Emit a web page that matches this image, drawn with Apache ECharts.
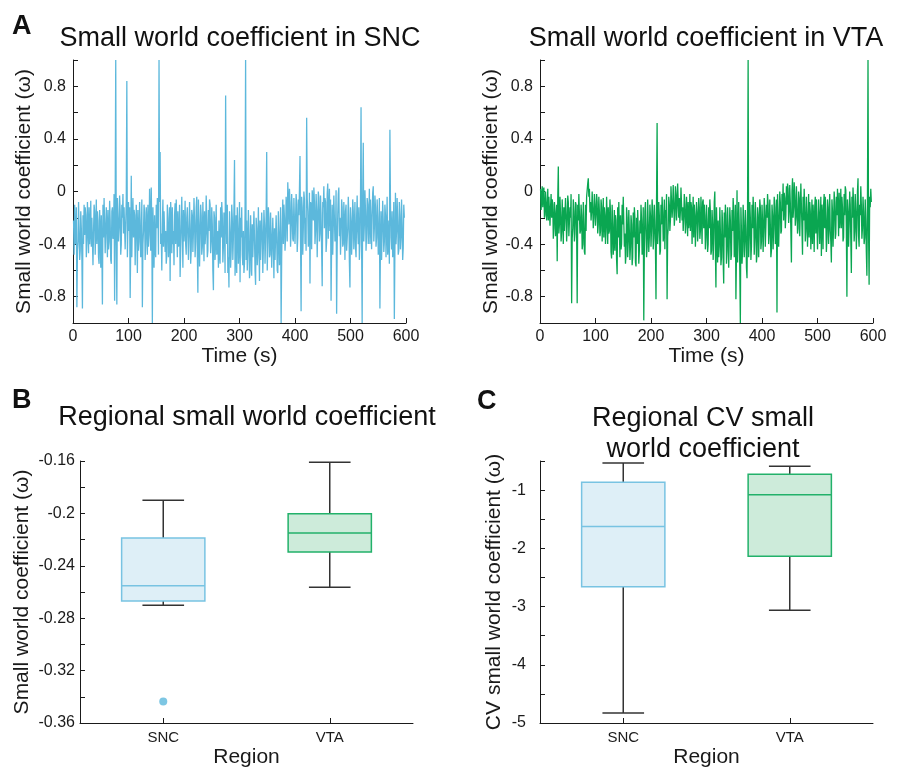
<!DOCTYPE html>
<html>
<head>
<meta charset="utf-8">
<script src="https://cdn.jsdelivr.net/npm/echarts@6/dist/echarts.min.js"></script>
<style>
html,body{margin:0;padding:0;background:#fff;}
#chart{width:898px;height:769px;}
</style>
</head>
<body>
<div id="chart"></div>
<script>
// ---------- DATA ----------
const timeStart = 1;      // s
const timeStep = 1;       // s between samples

const sncOmega = [
-0.22,-0.48,-0.10,-0.40,-0.35,-0.12,-0.88,-0.45,-0.38,-0.08,-0.30,-0.52,-0.45,-0.15,-0.28,-0.50,-0.89,-0.18,-0.40,-0.10,
-0.33,-0.12,-0.18,-0.50,-0.37,-0.08,-0.26,-0.47,-0.12,-0.40,-0.30,-0.07,-0.42,-0.20,-0.20,-0.56,-0.31,-0.10,-0.15,-0.48,
-0.28,-0.06,-0.40,-0.15,-0.22,-0.50,-0.55,-0.14,-0.30,-0.58,-0.18,-0.42,-0.86,-0.10,-0.35,-0.05,-0.25,-0.47,-0.46,-0.12,
-0.27,-0.50,-0.14,-0.44,-0.38,-0.07,-0.22,-0.52,-0.55,-0.15,-0.12,-0.36,-0.30,-0.02,-0.83,-0.10,1.00,-0.40,-0.86,-0.05,
-0.05,-0.38,-0.28,-0.03,-0.15,-0.48,-0.40,-0.10,-0.20,-0.02,-0.32,-0.12,-0.12,-0.44,-0.45,-0.06,0.84,-0.50,-0.25,-0.08,
-0.30,-0.12,-0.81,-0.42,0.12,-0.50,-0.20,-0.05,-0.35,-0.14,-0.18,-0.56,-0.55,-0.10,-0.28,-0.62,-0.14,-0.45,-0.38,-0.08,
-0.22,-0.50,-0.45,-0.06,-0.88,-0.40,-0.30,-0.10,-0.16,-0.52,-0.40,-0.12,-0.25,-0.48,-0.10,-0.42,-0.33,0.02,-0.20,-0.45,
0.03,-0.30,-1.00,-0.12,-0.35,-0.58,-0.18,-0.45,-0.50,-0.10,-0.28,-0.05,-0.12,-0.48,1.00,-0.08,0.30,-0.40,-0.32,-0.60,
-0.25,-0.06,-0.42,-0.15,-0.15,-0.46,-0.30,-0.55,-0.48,-0.10,-0.20,-0.50,-0.35,-0.12,-0.68,-0.08,-0.22,-0.47,-0.12,-0.40,
-0.30,-0.56,-0.18,-0.09,-0.40,-0.06,-0.26,-0.50,-0.15,-0.42,-0.36,-0.10,-0.65,-0.44,-0.24,-0.04,-0.32,-0.58,-0.14,-0.38,
-0.28,-0.07,-0.40,-0.48,-0.20,-0.12,-0.12,-0.52,-0.33,-0.08,-0.25,-0.55,-0.45,-0.14,-0.18,-0.46,-0.30,-0.05,-0.22,-0.50,
-0.38,-0.12,-0.04,-0.45,-0.77,-0.06,-0.25,-0.57,-0.35,-0.10,-0.18,-0.48,-0.42,-0.08,-0.28,-0.53,-0.15,-0.40,-0.32,-0.03,
-0.22,-0.50,-0.45,-0.14,-0.30,-0.06,-0.10,-0.47,-0.38,-0.12,-0.25,-0.60,-0.75,-0.15,-0.20,-0.52,-0.35,-0.10,-0.48,-0.44,
-0.30,-0.58,-0.22,-0.48,-0.55,-0.12,-0.35,-0.08,-0.18,-0.54,-0.42,-0.16,-0.28,-0.62,0.73,-0.20,-0.40,-0.10,-0.62,-0.50,
-0.73,-0.15,-0.30,-0.58,-0.45,-0.10,-0.20,-0.52,-0.35,-0.14,0.24,-0.64,-0.50,-0.18,-0.62,-0.12,-0.28,-0.55,-0.40,-0.08,
-0.69,-0.20,-0.35,-0.12,-0.48,-0.56,-0.30,-0.62,-0.55,-0.16,1.00,-0.52,-0.22,-0.60,-0.45,-0.14,-0.33,-0.66,-0.60,-0.18,
-0.38,-0.64,-0.25,-0.50,-0.50,-0.15,-0.35,-0.60,-0.71,-0.20,-0.28,-0.56,-0.45,-0.12,-0.40,-0.68,-0.22,-0.52,-0.52,-0.16,
-0.30,-0.62,-0.42,-0.14,-0.25,-0.55,-0.55,-0.18,0.30,-0.60,-0.38,-0.12,-0.20,-0.50,-0.48,-0.16,-0.33,-0.58,-0.58,-0.20,
-0.40,-0.66,-0.28,-0.52,-0.52,-0.18,-0.35,-0.60,-0.62,-0.15,-0.30,-0.56,-0.45,-0.12,-1.00,-0.50,-0.25,-0.06,-0.40,-0.10,
-0.20,-0.45,-0.35,-0.04,-0.12,-0.38,0.07,-0.08,-0.25,0.02,-0.08,-0.42,-0.30,-0.02,-0.15,-0.36,-0.38,-0.05,-0.05,-0.40,
-0.22,-0.02,-0.10,-0.46,-0.35,-0.06,-0.18,0.01,0.27,-0.38,-0.91,-0.04,-0.12,-0.48,-0.28,0.00,-0.06,-0.40,-0.20,-0.45,
0.56,-0.05,-0.15,-0.42,-0.35,-0.01,-0.70,-0.08,-0.10,-0.44,0.01,-0.06,-0.22,0.03,-0.08,-0.40,-0.30,-0.02,-0.14,-0.50,
-0.25,0.00,-0.05,-0.38,-0.32,-0.03,-0.18,-0.45,-0.72,-0.08,-0.12,0.04,-0.28,-0.05,-0.08,-0.46,-0.38,-0.02,0.06,-0.36,
-0.15,0.02,-0.30,-0.06,-0.83,-0.40,-0.10,-0.48,-0.25,-0.03,-0.02,-0.38,-0.35,0.01,-0.93,-0.42,-0.18,-0.02,0.03,-0.34,
-0.20,-0.48,-0.32,-0.06,-0.12,-0.42,-0.40,-0.08,-0.25,-0.52,-0.15,-0.10,-0.45,-0.46,-0.28,-0.04,-0.18,-0.54,-0.73,-0.12,
-0.22,-0.48,-0.35,-0.06,-0.15,-0.44,-0.28,-0.08,-0.42,-0.50,-0.20,-0.03,-0.30,-0.40,-0.12,-0.52,-0.38,-0.07,0.64,-0.42,
-1.00,-0.02,0.37,-0.38,-0.25,0.01,-0.15,-0.45,-0.32,-0.05,-0.10,-0.40,-0.22,0.02,-0.40,-0.06,-0.05,-0.44,-0.18,-0.01,
0.04,-0.38,-0.28,-0.03,-0.12,-0.42,-0.35,-0.06,-0.20,-0.48,-0.45,-0.05,-0.89,-0.40,-0.15,-0.52,-0.30,-0.07,-0.22,-0.46,
-0.38,-0.10,-0.18,-0.50,-0.28,-0.04,-0.48,-0.42,-0.22,-0.55,0.47,-0.08,-0.35,-0.44,-0.15,-0.50,-0.40,-0.08,-0.97,-0.45,
-0.01,-0.40,-0.30,-0.05,-0.22,-0.48,-0.45,-0.08,-0.18,-0.44,-0.35,-0.06,-0.25,-0.52,-0.43,-0.10,-0.20
];

const vtaOmega = [
0.02,-0.14,-0.05,0.04,-0.12,0.01,0.03,-0.20,-0.18,0.00,-0.08,-0.22,-0.15,0.02,-0.22,-0.04,-0.05,-0.26,-0.12,-0.02,
-0.20,-0.06,-0.10,-0.36,-0.28,-0.08,-0.15,-0.34,-0.35,-0.10,-0.53,-0.05,0.19,-0.32,-0.25,-0.04,-0.18,-0.38,-0.30,-0.06,
-0.22,-0.40,-0.12,-0.30,-0.30,-0.05,-0.18,-0.38,-0.25,-0.03,-0.08,-0.34,-0.35,-0.12,-0.20,-0.02,-0.85,-0.36,-0.28,-0.06,
-0.15,-0.38,-0.32,-0.08,-0.10,-0.30,-0.85,-0.10,-0.22,-0.02,-0.02,-0.32,-0.30,-0.10,-0.18,-0.44,-0.40,-0.08,-0.25,-0.46,
-0.48,-0.10,-0.30,-0.04,-0.05,0.06,0.10,-0.04,0.02,-0.16,-0.08,-0.22,-0.15,0.00,-0.12,-0.28,-0.20,-0.02,-0.10,-0.26,
-0.18,-0.02,-0.08,-0.32,-0.25,-0.04,-0.15,-0.34,-0.30,-0.06,-0.12,-0.38,-0.22,-0.05,-0.35,-0.12,-0.18,-0.40,-0.28,-0.04,
-0.20,-0.40,-0.12,-0.32,-0.30,-0.06,-0.15,-0.46,-0.51,-0.10,-0.25,-0.48,-0.38,-0.14,-0.45,-0.18,-0.22,-0.52,-0.63,-0.12,
-0.35,-0.08,-0.28,-0.50,-0.18,-0.44,-0.40,-0.10,-0.25,-0.04,-0.05,-0.42,-0.32,-0.55,-0.48,-0.12,-0.20,-0.50,-0.38,-0.14,
-0.30,-0.52,-0.42,-0.18,-0.25,-0.56,-0.50,-0.16,-0.35,-0.12,-0.20,-0.54,-0.57,-0.20,-0.40,-0.14,-0.28,-0.55,-0.45,-0.22,
-0.32,-0.10,-0.22,-0.48,-0.38,-0.12,-0.98,-0.44,-0.15,-0.08,-0.30,-0.50,-0.42,-0.06,-0.25,-0.46,-0.35,-0.10,-0.18,-0.42,
-0.28,-0.06,-0.15,-0.44,-0.35,-0.10,-0.22,-0.42,-0.82,-0.06,0.52,-0.40,-0.30,-0.08,-0.18,-0.48,-0.45,-0.10,-0.25,-0.04,
-0.15,-0.38,-0.32,-0.06,-0.44,-0.14,-0.20,-0.02,-0.82,-0.34,-0.28,-0.04,-0.10,-0.30,-0.22,0.04,0.03,-0.20,-0.12,0.05,
-0.08,-0.26,-0.18,0.04,-0.02,-0.22,-0.10,0.06,0.05,-0.20,-0.05,-0.24,-0.15,0.03,0.02,-0.22,-0.12,-0.30,-0.20,-0.02,
-0.10,-0.32,-0.25,-0.04,-0.15,-0.34,-0.08,-0.28,-0.22,-0.02,-0.30,-0.08,-0.12,-0.40,-0.20,-0.04,-0.35,-0.10,-0.18,-0.42,
-0.41,-0.08,-0.15,-0.38,-0.25,-0.05,-0.12,-0.36,-0.30,-0.04,-0.20,-0.40,-0.08,-0.06,-0.28,-0.10,-0.18,-0.44,-0.35,-0.10,
-0.22,-0.46,-0.40,-0.12,-0.28,-0.06,-0.15,-0.48,-0.45,-0.14,-0.25,-0.52,-0.35,-0.08,0.00,-0.44,-0.73,-0.12,-0.30,-0.54,
-0.22,-0.50,-0.42,-0.12,-0.30,-0.56,-0.50,-0.14,-0.25,-0.52,-0.70,-0.16,-0.35,-0.10,-0.18,-0.55,-0.45,-0.12,-0.28,-0.58,
-0.38,-0.12,-0.22,-0.52,-0.48,-0.14,-0.30,-0.05,-0.15,-0.50,-0.40,-0.10,-0.82,-0.48,0.01,-0.54,-0.35,-0.08,-0.25,-0.60,
-1.00,-0.12,-0.30,-0.55,-0.45,-0.10,-0.22,-0.50,-0.38,-0.14,-0.28,-0.58,-0.66,-0.12,1.00,-0.50,-0.35,-0.08,-0.20,-0.52,
-0.42,-0.10,-0.28,-0.04,-0.15,-0.48,-0.35,-0.08,-0.25,-0.54,-0.48,-0.12,-0.18,-0.50,-0.30,-0.06,-0.12,-0.44,-0.38,-0.10,
-0.22,-0.46,-0.30,-0.05,-0.15,-0.42,-0.42,-0.10,-0.20,-0.02,-0.10,-0.40,-0.32,-0.06,-0.25,-0.50,-0.45,-0.10,-0.18,-0.44,
-0.28,-0.04,-0.12,-0.40,-0.35,-0.06,-0.92,-0.02,-0.20,-0.42,-0.25,0.00,-0.08,-0.32,-0.30,-0.02,-0.15,0.06,-0.22,-0.01,
-0.05,-0.28,-0.18,0.04,-0.10,0.06,0.02,-0.24,-0.15,0.05,-0.08,-0.30,-0.54,0.00,0.10,-0.20,-0.12,0.07,-0.03,-0.26,
-0.20,0.04,-0.10,-0.32,-0.28,0.00,-0.05,-0.34,-0.15,0.06,0.05,-0.28,-0.48,-0.04,-0.22,0.02,-0.12,-0.38,-0.30,-0.04,
-0.18,-0.42,-0.25,-0.02,-0.35,-0.08,-0.15,-0.44,-0.28,-0.06,-0.40,-0.10,-0.20,-0.46,-0.12,-0.04,-0.32,-0.06,-0.22,-0.44,
-0.30,-0.06,-0.15,-0.40,-0.25,-0.04,-0.49,-0.10,-0.18,-0.44,-0.10,-0.02,-0.28,-0.04,-0.20,-0.46,-0.35,-0.06,-0.12,-0.40,
-0.22,-0.02,-0.30,-0.38,-0.54,-0.06,-0.15,-0.42,-0.25,0.00,-0.08,-0.36,-0.32,-0.04,-0.18,0.02,-0.12,-0.34,-0.01,-0.28,
-0.20,0.02,-0.28,-0.04,-0.12,-0.38,-0.35,-0.02,-0.18,0.04,0.01,-0.30,-0.80,-0.06,-0.15,-0.42,-0.25,0.00,-0.10,-0.36,
-0.62,-0.04,-0.20,0.03,-0.08,-0.38,-0.30,-0.02,-0.15,-0.44,-0.25,0.00,0.10,-0.34,-0.42,-0.10,-0.18,0.04,-0.10,-0.36,
-0.28,-0.04,-0.15,-0.40,-0.35,-0.06,-0.22,-0.46,-0.64,-0.08,1.00,-0.30,-0.71,-0.04,-0.12,0.02,-0.08
];

const regions = ['SNC', 'VTA'];
// [min whisker, Q1, median, Q3, max whisker]
const regionalOmegaBox = [
  [-0.2701, -0.2669, -0.2552, -0.2187, -0.1899],
  [-0.2563, -0.2294, -0.2149, -0.2003, -0.1610]
];
const regionalOmegaOutliers = [['SNC', -0.3436]];

const regionalCvBox = [
  [-4.828, -2.661, -1.626, -0.863, -0.534],
  [-3.065, -2.138, -1.080, -0.727, -0.590]
];

// ---------- STYLE ----------
const FONT = '"Liberation Sans", Arial, Helvetica, sans-serif';
const INK = '#1a1a1a';
const SNC_LINE = '#5cb8dc';
const VTA_LINE = '#0aa651';
const boxFill = ['#deeff7', '#cdebda'];
const boxEdge = ['#78c3e2', '#22b16a'];
const whiskerColor = '#333333';

const toPairs = arr => arr.map((v, i) => [timeStart + i * timeStep, v]);

function lbl04(v) {
  const k = Math.round(v / 0.4);
  if (Math.abs(v - k * 0.4) < 1e-6 && Math.abs(v) < 0.99) return String(parseFloat(v.toFixed(1)));
  return '';
}
function lblB(v) {
  const k = Math.round((v + 0.36) / 0.02);
  return k % 2 === 0 ? String(parseFloat(v.toFixed(2))) : '';
}
function lblC(v) {
  const r = Math.round(v);
  return Math.abs(v - r) < 1e-6 ? String(r) : '';
}

const axisLine = { show: true, onZero: false, lineStyle: { color: INK, width: 1 } };
const axisTick = { show: true, inside: true, length: 5, lineStyle: { color: INK, width: 1 } };

function timeXAxis(gi) {
  return {
    type: 'value', gridIndex: gi, min: 0, max: 600, interval: 100,
    axisLine, axisTick, splitLine: { show: false },
    axisLabel: { fontSize: 16, color: INK, fontFamily: FONT, margin: 6 },
    name: 'Time (s)', nameLocation: 'middle', nameGap: 23,
    nameTextStyle: { fontSize: 21, color: INK, fontFamily: FONT }
  };
}
function omegaYAxis(gi, gap) {
  return {
    type: 'value', gridIndex: gi, min: -1, max: 1, interval: 0.2,
    axisLine, axisTick, splitLine: { show: false },
    axisLabel: { fontSize: 16, color: INK, fontFamily: FONT, margin: 7, formatter: lbl04 },
    name: 'Small world coefficient (\u03c9)', nameLocation: 'middle', nameGap: gap,
    nameTextStyle: { fontSize: 21, color: INK, fontFamily: FONT }
  };
}
function regionXAxis(gi) {
  return {
    type: 'category', gridIndex: gi, data: regions, boundaryGap: true,
    axisLine, axisTick: Object.assign({ alignWithLabel: true }, axisTick),
    axisLabel: { fontSize: 15, color: INK, fontFamily: FONT, margin: 7 },
    name: 'Region', nameLocation: 'middle', nameGap: 24,
    nameTextStyle: { fontSize: 21, color: INK, fontFamily: FONT }
  };
}

function renderBox(params, api) {
  const c = api.value(0);
  const band = api.size([1, 0])[0];
  const bw = band * 0.5, cw = band * 0.25;
  const pMin = api.coord([c, api.value(1)]);
  const pQ1 = api.coord([c, api.value(2)]);
  const pMed = api.coord([c, api.value(3)]);
  const pQ3 = api.coord([c, api.value(4)]);
  const pMax = api.coord([c, api.value(5)]);
  const x = pMin[0];
  const i = params.dataIndex;
  const wl = { stroke: whiskerColor, lineWidth: 1.5 };
  return {
    type: 'group',
    children: [
      { type: 'line', shape: { x1: x, y1: pQ3[1], x2: x, y2: pMax[1] }, style: wl },
      { type: 'line', shape: { x1: x, y1: pQ1[1], x2: x, y2: pMin[1] }, style: wl },
      { type: 'line', shape: { x1: x - cw / 2, y1: pMax[1], x2: x + cw / 2, y2: pMax[1] }, style: wl },
      { type: 'line', shape: { x1: x - cw / 2, y1: pMin[1], x2: x + cw / 2, y2: pMin[1] }, style: wl },
      { type: 'rect', shape: { x: x - bw / 2, y: pQ3[1], width: bw, height: pQ1[1] - pQ3[1] },
        style: { fill: boxFill[i], stroke: boxEdge[i], lineWidth: 1.5 } },
      { type: 'line', shape: { x1: x - bw / 2, y1: pMed[1], x2: x + bw / 2, y2: pMed[1] },
        style: { stroke: boxEdge[i], lineWidth: 1.5 } }
    ]
  };
}

const boxDataB = regionalOmegaBox.map((b, i) => [i].concat(b));
const boxDataC = regionalCvBox.map((b, i) => [i].concat(b));

const titleStyle = { fontSize: 27, fontWeight: 'normal', color: '#111', fontFamily: FONT };
const letterStyle = { fontSize: 27, fontWeight: 'bold', color: '#111', fontFamily: FONT };

const option = {
  backgroundColor: '#fff',
  animation: false,
  textStyle: { fontFamily: FONT },
  title: [
    { text: 'A', left: 7, top: 8, textStyle: letterStyle },
    { text: 'B', left: 7, top: 382, textStyle: letterStyle },
    { text: 'C', left: 472, top: 383, textStyle: letterStyle },
    { text: 'Small world coefficient in SNC', left: 235, top: 20, textAlign: 'center', textStyle: titleStyle },
    { text: 'Small world coefficient in VTA', left: 701, top: 20, textAlign: 'center', textStyle: titleStyle },
    { text: 'Regional small world coefficient', left: 242, top: 399, textAlign: 'center', textStyle: titleStyle },
    { text: 'Regional CV small\nworld coefficient', left: 698, top: 398, textAlign: 'center',
      textStyle: Object.assign({ lineHeight: 31 }, titleStyle) }
  ],
  grid: [
    { left: 73, top: 60, width: 333, height: 263, containLabel: false },
    { left: 540, top: 60, width: 333, height: 263, containLabel: false },
    { left: 80, top: 461, width: 333, height: 263, containLabel: false },
    { left: 540, top: 461, width: 333, height: 263, containLabel: false }
  ],
  xAxis: [timeXAxis(0), timeXAxis(1), regionXAxis(2), regionXAxis(3)],
  yAxis: [
    omegaYAxis(0, 38),
    omegaYAxis(1, 37),
    {
      type: 'value', gridIndex: 2, min: -0.36, max: -0.16, interval: 0.02,
      axisLine, axisTick, splitLine: { show: false },
      axisLabel: { fontSize: 16, color: INK, fontFamily: FONT, margin: 5, formatter: lblB },
      name: 'Small world coefficient (\u03c9)', nameLocation: 'middle', nameGap: 47,
      nameTextStyle: { fontSize: 21, color: INK, fontFamily: FONT }
    },
    {
      type: 'value', gridIndex: 3, min: -5, max: -0.5, interval: 0.5,
      axisLine, axisTick, splitLine: { show: false },
      axisLabel: { fontSize: 16, color: INK, fontFamily: FONT, margin: 14, formatter: lblC },
      name: 'CV small world coefficient (\u03c9)', nameLocation: 'middle', nameGap: 35,
      nameTextStyle: { fontSize: 21, color: INK, fontFamily: FONT }
    }
  ],
  series: [
    { type: 'line', xAxisIndex: 0, yAxisIndex: 0, data: toPairs(sncOmega), showSymbol: false,
      lineStyle: { color: SNC_LINE, width: 1.3 }, itemStyle: { color: SNC_LINE } },
    { type: 'line', xAxisIndex: 1, yAxisIndex: 1, data: toPairs(vtaOmega), showSymbol: false,
      lineStyle: { color: VTA_LINE, width: 1.3 }, itemStyle: { color: VTA_LINE } },
    { type: 'custom', xAxisIndex: 2, yAxisIndex: 2, data: boxDataB, renderItem: renderBox,
      encode: { x: 0, y: [1, 2, 3, 4, 5] } },
    { type: 'scatter', xAxisIndex: 2, yAxisIndex: 2, data: regionalOmegaOutliers, symbolSize: 8,
      itemStyle: { color: SNC_LINE } },
    { type: 'custom', xAxisIndex: 3, yAxisIndex: 3, data: boxDataC, renderItem: renderBox,
      encode: { x: 0, y: [1, 2, 3, 4, 5] } }
  ]
};

const chart = echarts.init(document.getElementById('chart'), null, { renderer: 'canvas' });
chart.setOption(option);
</script>
</body>
</html>
